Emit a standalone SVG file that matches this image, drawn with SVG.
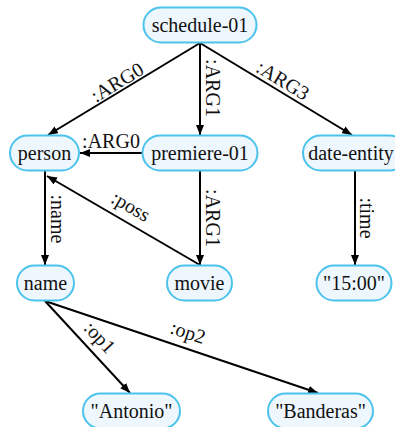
<svg xmlns="http://www.w3.org/2000/svg" width="395" height="427" viewBox="0 0 395 427" font-family="'Liberation Serif', 'Times New Roman', serif">
<defs>
<style>
.node rect{fill:#eef7fd;stroke:#4cc3ec;stroke-width:2}
.node text{font-family:'Liberation Serif','Times New Roman',serif;font-size:20px;fill:#111;text-anchor:middle}
.edges line{stroke:#000;stroke-width:2;marker-end:url(#arr)}
.lbl{font-family:'Liberation Serif','Times New Roman',serif;font-size:20px;fill:#111;text-anchor:middle}
</style>
<marker id="arr" viewBox="0 0 10 8" refX="10" refY="4" markerWidth="10" markerHeight="8" markerUnits="userSpaceOnUse" orient="auto">
<path d="M0,0 L10,4 L0,8 z" fill="#000"/>
</marker>
</defs>
<rect width="395" height="427" fill="#fff"/>
<g class="edges">
<line x1="200" y1="43" x2="48" y2="135"/>
<line x1="200" y1="43" x2="200" y2="135"/>
<line x1="200" y1="43" x2="352" y2="135"/>
<line x1="142" y1="153" x2="80" y2="153"/>
<line x1="45" y1="171" x2="45" y2="265"/>
<line x1="200" y1="265" x2="47" y2="176"/>
<line x1="200" y1="171" x2="200" y2="265"/>
<line x1="355" y1="171" x2="355" y2="265"/>
<line x1="45" y1="301" x2="130" y2="393"/>
<line x1="45" y1="301" x2="318" y2="393"/>
<g>
<text class="lbl" transform="translate(117,82) rotate(-31.2)" y="7">:ARG0</text>
<text class="lbl" transform="translate(213,88) rotate(90)" y="7">:ARG1</text>
<text class="lbl" transform="translate(283,80) rotate(31.2)" y="7">:ARG3</text>
<text class="lbl" x="111" y="148">:ARG0</text>
<text class="lbl" transform="translate(58,219) rotate(90)" y="7">:name</text>
<text class="lbl" transform="translate(131,206) rotate(30.3)" y="7">:poss</text>
<text class="lbl" transform="translate(213,218) rotate(90)" y="7">:ARG1</text>
<text class="lbl" transform="translate(367,218) rotate(90)" y="7">:time</text>
<text class="lbl" transform="translate(100,337) rotate(47.3)" y="7">:op1</text>
<text class="lbl" transform="translate(188,332) rotate(18.6)" y="7">:op2</text>
</g>
</g>
<g id="schedule-01" class="node"><rect x="143.5" y="7.5" width="113" height="35" rx="17.5"/><text x="200" y="32">schedule-01</text></g>
<g id="person" class="node"><rect x="10" y="135.5" width="69" height="35" rx="17.5"/><text x="44.5" y="160">person</text></g>
<g id="premiere-01" class="node"><rect x="142.5" y="135.5" width="115" height="35" rx="17.5"/><text x="200" y="160">premiere-01</text></g>
<g id="date-entity" class="node"><rect x="303" y="135.5" width="104" height="35" rx="17.5"/><text x="351" y="160">date-entity</text></g>
<g id="name" class="node"><rect x="17" y="265.5" width="57" height="35" rx="17.5"/><text x="45.5" y="290">name</text></g>
<g id="movie" class="node"><rect x="167" y="265.5" width="65" height="35" rx="17.5"/><text x="199.5" y="290">movie</text></g>
<g id="time-1500" class="node"><rect x="316.5" y="265.5" width="75" height="35" rx="17.5"/><text x="354" y="290">"15:00"</text></g>
<g id="antonio" class="node"><rect x="83" y="393.5" width="97" height="35" rx="17.5"/><text x="131.5" y="418">"Antonio"</text></g>
<g id="banderas" class="node"><rect x="268" y="393.5" width="105" height="35" rx="17.5"/><text x="320.5" y="418">"Banderas"</text></g>
</svg>
